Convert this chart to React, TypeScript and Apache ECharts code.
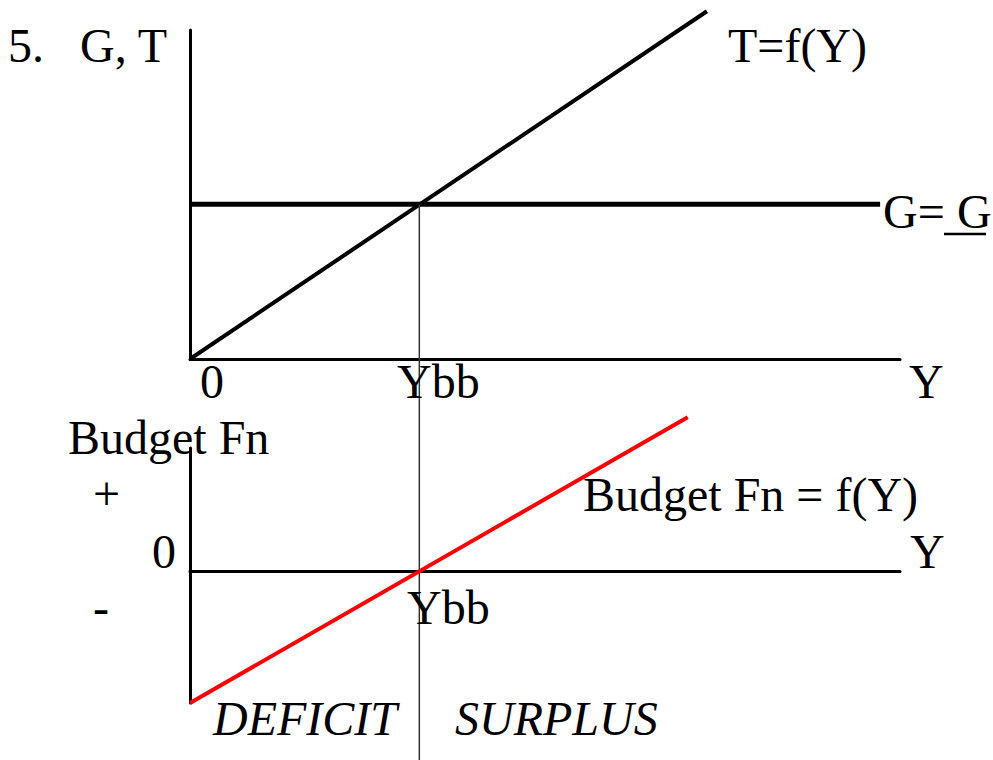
import React, { useEffect, useRef } from "react";
import * as echarts from "echarts";

// Income levels (x) and tax values for T = f(Y)
const incomeT = [0, 72.8];
const taxT = [0, 105.7];
// Government spending G = G (constant)
const incomeG = [0, 97.2];
const govValue = 47;
// Balanced-budget income level
const ybb = 32.3;
const ybbLineLevels = [47, -125];
// Budget function (T - G)
const incomeB = [0, 70.1];
const budgetValues = [-47, 55];

const FONT = '"Liberation Serif", "Times New Roman", serif';

function txt(text: string, x: number, baseline: number, italic = false) {
  return {
    type: "text",
    x,
    y: baseline - 16,
    z: 10,
    style: {
      text,
      fontSize: 48,
      fontFamily: FONT,
      fontStyle: italic ? "italic" : "normal",
      fill: "#000",
      verticalAlign: "middle",
      align: "left",
    },
  };
}

export default function App() {
  const ref = useRef<HTMLDivElement>(null);
  useEffect(() => {
    if (!ref.current) return;
    const chart = echarts.init(ref.current, undefined, { renderer: "svg" });
    const axisLine = { show: true, onZero: true, lineStyle: { color: "#000", width: 3 } };
    const hidden = {
      axisTick: { show: false },
      axisLabel: { show: false },
      splitLine: { show: false },
    };
    chart.setOption({
      animation: false,
      backgroundColor: "#fff",
      grid: [
        { left: 190, top: 30, width: 710, height: 329 },
        { left: 190, top: 448, width: 710, height: 255 },
      ],
      xAxis: [
        { type: "value", gridIndex: 0, min: 0, max: 100, axisLine, ...hidden },
        { type: "value", gridIndex: 1, min: 0, max: 100, axisLine, ...hidden },
      ],
      yAxis: [
        { type: "value", gridIndex: 0, min: 0, max: 100, axisLine, ...hidden },
        { type: "value", gridIndex: 1, min: -47, max: 44, axisLine, ...hidden },
      ],
      series: [
        {
          type: "line",
          xAxisIndex: 0,
          yAxisIndex: 0,
          clip: false,
          symbol: "none",
          data: incomeT.map((x, i) => [x, taxT[i]]),
          lineStyle: { color: "#000", width: 4 },
        },
        {
          type: "line",
          xAxisIndex: 0,
          yAxisIndex: 0,
          clip: false,
          symbol: "none",
          data: incomeG.map((x) => [x, govValue]),
          lineStyle: { color: "#000", width: 5 },
        },
        {
          type: "line",
          xAxisIndex: 0,
          yAxisIndex: 0,
          clip: false,
          symbol: "none",
          data: ybbLineLevels.map((v) => [ybb, v]),
          lineStyle: { color: "#333", width: 1.5 },
        },
        {
          type: "line",
          xAxisIndex: 1,
          yAxisIndex: 1,
          clip: false,
          symbol: "none",
          data: incomeB.map((x, i) => [x, budgetValues[i]]),
          lineStyle: { color: "#ff0000", width: 4 },
        },
      ],
      graphic: [
        txt("5.", 8, 61),
        txt("G, T", 80, 61),
        txt("T=f(Y)", 728, 61),
        txt("G=", 883, 227),
        txt("G", 957, 227),
        {
          type: "line",
          z: 10,
          shape: { x1: 944, y1: 234, x2: 986, y2: 234 },
          style: { stroke: "#000", lineWidth: 2.5 },
        },
        txt("0", 200, 397),
        txt("Ybb", 397, 397),
        txt("Y", 909, 397),
        txt("Budget Fn", 68, 453),
        txt("+", 93, 509),
        txt("0", 152, 567),
        txt("-", 93, 623),
        txt("Budget Fn = f(Y)", 583, 510),
        txt("Y", 910, 567),
        txt("Ybb", 407, 623),
        txt("DEFICIT", 213, 734, true),
        txt("SURPLUS", 455, 734, true),
      ],
    });
    return () => chart.dispose();
  }, []);
  return (
    <div
      ref={ref}
      style={{ position: "fixed", left: 0, top: 0, width: 993, height: 760, background: "#fff" }}
    />
  );
}
